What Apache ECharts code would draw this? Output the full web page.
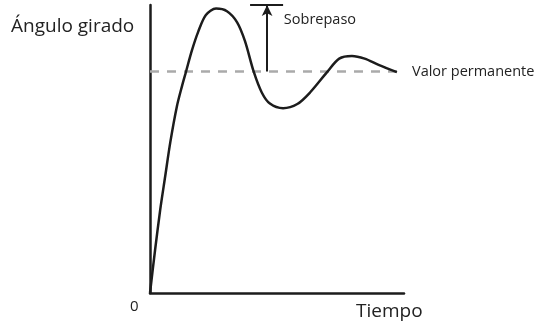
<!DOCTYPE html>
<html>
<head>
<meta charset="utf-8">
<script src="https://cdn.jsdelivr.net/npm/echarts@6/dist/echarts.min.js"></script>
<style>
  html, body { margin: 0; padding: 0; background: #fff; }
  #chart { width: 538px; height: 329px; }
</style>
</head>
<body>
<div id="chart"></div>
<script>
// Step response of an underdamped system: rotation angle vs time
const tiempo = [0, 2.0, 4.0, 6.0, 8.0, 10.6, 12.6, 14.2, 16.5, 19.0, 22.0, 26.0,
  30.3, 34.3, 37.4, 40.8, 44.0, 47.2, 52.4, 58.0, 63.0, 69.7, 74.5, 79.5, 84.5, 90.0, 97.2];
const anguloGirado = [0, 0.194, 0.374, 0.528, 0.681, 0.843, 0.934, 1.0, 1.095, 1.18,
  1.255, 1.284, 1.272, 1.222, 1.137, 1.0, 0.905, 0.855, 0.834, 0.853, 0.905, 0.997,
  1.058, 1.07, 1.058, 1.03, 0.997];

const valorPermanente = 1.0;          // steady-state value
const finPermanente = 99.6;           // where the dashed reference line ends
const sobrepasoX = 46.1;              // time where the overshoot arrow is drawn
const sobrepasoPico = 1.3;            // overshoot peak marker level
const barraSobrepaso = [39.4, 52.4];  // extent of the bar capping the arrow

const labels = {
  yName: 'Ángulo girado',
  xName: 'Tiempo',
  origin: '0',
  overshoot: 'Sobrepaso',
  steady: 'Valor permanente'
};

const FONT = '"Open Sans", "Noto Sans", sans-serif';
const INK = '#1c1c1c';
const TEXT = '#222222';

const chart = echarts.init(document.getElementById('chart'), null, { renderer: 'canvas' });

chart.setOption({
  animation: false,
  backgroundColor: '#ffffff',
  grid: { left: 150, right: 134, top: 5, bottom: 36, containLabel: false },
  xAxis: {
    type: 'value', min: 0, max: 100,
    axisLine: { show: true, lineStyle: { color: INK, width: 2.5 } },
    axisTick: { show: false }, axisLabel: { show: false }, splitLine: { show: false }
  },
  yAxis: {
    type: 'value', min: 0, max: 1.3,
    axisLine: { show: true, lineStyle: { color: INK, width: 2.5 } },
    axisTick: { show: false }, axisLabel: { show: false }, splitLine: { show: false }
  },
  series: [
    {
      // dashed steady-state reference
      type: 'line',
      data: [[0, valorPermanente], [finPermanente, valorPermanente]],
      symbol: 'none',
      silent: true,
      z: 1,
      lineStyle: { color: '#aaaaaa', width: 2.5, type: [9, 8] },
      markPoint: {
        symbol: 'rect', symbolSize: 0,
        label: {
          show: true, position: 'right', distance: 9,
          formatter: labels.steady,
          fontFamily: FONT, fontSize: 14.5, color: TEXT
        },
        data: [{ coord: [finPermanente, valorPermanente] }]
      }
    },
    {
      // response curve
      type: 'line',
      data: tiempo.map((t, i) => [t, anguloGirado[i]]),
      smooth: 0.3,
      symbol: 'none',
      z: 3,
      lineStyle: { color: INK, width: 2.5 }
    },
    {
      // overshoot annotation
      type: 'line',
      data: [],
      z: 4,
      clip: false,
      markLine: {
        silent: true,
        animation: false,
        label: { show: false },
        data: [
          [
            { coord: [sobrepasoX, valorPermanente], symbol: 'none' },
            { coord: [sobrepasoX, sobrepasoPico], symbol: 'arrow', symbolSize: [8, 11] }
          ],
          [
            { coord: [barraSobrepaso[0], sobrepasoPico], symbol: 'none' },
            { coord: [barraSobrepaso[1], sobrepasoPico], symbol: 'none' }
          ]
        ],
        lineStyle: { color: INK, width: 2, type: 'solid' }
      },
      markPoint: {
        symbol: 'rect', symbolSize: 0,
        label: {
          show: true, position: 'right', distance: 0,
          formatter: labels.overshoot,
          fontFamily: FONT, fontSize: 14.5, color: TEXT
        },
        data: [{ coord: [barraSobrepaso[1] + 0.3, 1.235] }]
      }
    }
  ],
  graphic: [
    {
      type: 'text', left: 11, top: 17,
      style: { text: labels.yName, font: '19px ' + FONT, fill: TEXT }
    },
    {
      type: 'text', left: 356, top: 302,
      style: { text: labels.xName, font: '19px ' + FONT, fill: TEXT }
    },
    {
      type: 'text', left: 130, top: 299,
      style: { text: labels.origin, font: '15px ' + FONT, fill: TEXT }
    }
  ]
});
</script>
</body>
</html>
